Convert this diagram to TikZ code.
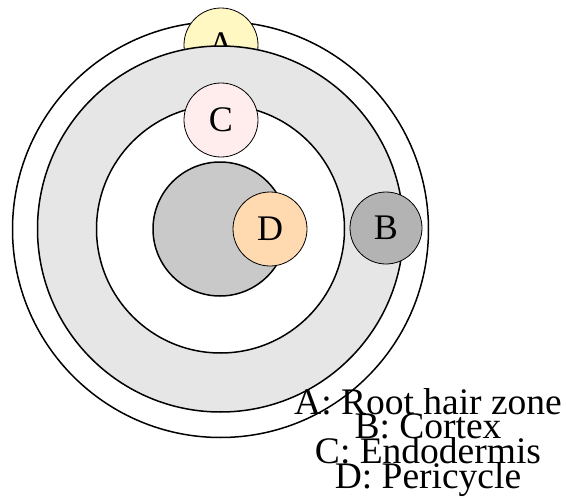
\documentclass[tikz,border=0pt]{standalone}
\usepackage{fontspec}
\setmainfont{Liberation Serif}
\definecolor{yellowA}{HTML}{FFF8C2}
\definecolor{pinkC}{HTML}{FFEDED}
\definecolor{peach}{HTML}{FFDAB0}
\definecolor{bgray}{HTML}{B3B3B3}
\definecolor{ringgray}{HTML}{E6E6E6}
\definecolor{innergray}{HTML}{C9C9C9}
\begin{document}
\begin{tikzpicture}[x=1pt,y=-1pt, font=\fontsize{36}{24.7}\selectfont,
  ring/.style={circle, draw=black, line width=1.5pt, inner sep=0pt},
  tag/.style={circle, draw=black, line width=0.8pt, inner sep=0pt, minimum size=74pt},
  legend/.style={anchor=base, inner sep=0pt, font=\fontsize{37.5}{24.7}\selectfont}]
\useasboundingbox (0,0) rectangle (566,498);
\node[ring, fill=white, minimum size=416pt] (outer) at (220.5,229.5) {};
\node[tag, fill=yellowA] (A) at (221,45) {A};
\node[ring, fill=ringgray, minimum size=366pt] (cortex) at (220.5,229) {};
\node[ring, fill=white, minimum size=248pt] (endo) at (220.5,229) {};
\node[ring, fill=innergray, minimum size=134pt] (stele) at (220,229) {};
\node[tag, fill=peach] (D) at (270,229) {D};
\node[tag, fill=bgray, minimum size=72pt] (B) at (386,228) {B};
\node[tag, fill=pinkC] (C) at (221,120) {C};
\node[legend] (l1) at (428,414) {A: Root hair zone};
\node[legend] (l2) at (428,438.5) {B: Cortex};
\node[legend] (l3) at (428,463.5) {C: Endodermis};
\node[legend] (l4) at (428,488) {D: Pericycle};
\end{tikzpicture}
\end{document}
